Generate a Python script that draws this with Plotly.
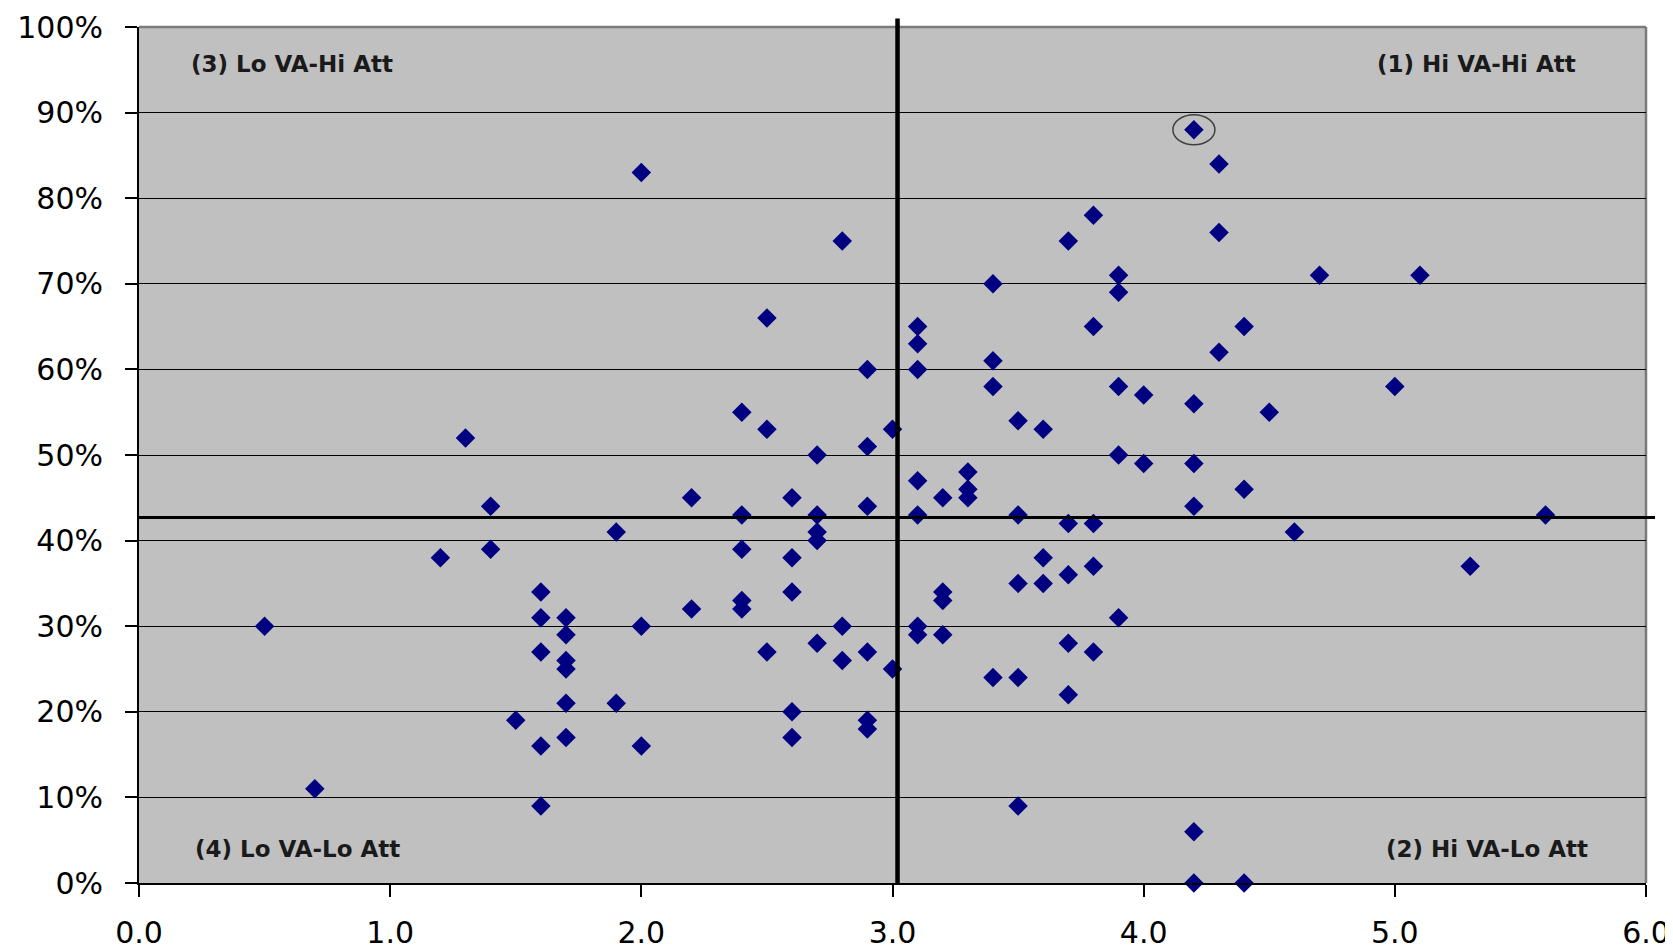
import plotly.graph_objects as go

# Value added (x) vs attendance share (y, fraction)
va = [0.5, 0.7, 1.2, 1.3, 1.4, 1.4, 1.5,
      1.6, 1.6, 1.6, 1.6, 1.6,
      1.7, 1.7, 1.7, 1.7, 1.7, 1.7,
      1.9, 1.9, 2.0, 2.0, 2.0,
      2.2, 2.2,
      2.4, 2.4, 2.4, 2.4, 2.4,
      2.5, 2.5, 2.5,
      2.6, 2.6, 2.6, 2.6, 2.6,
      2.7, 2.7, 2.7, 2.7, 2.7,
      2.8, 2.8, 2.8,
      2.9, 2.9, 2.9, 2.9, 2.9, 2.9,
      3.0, 3.0,
      3.1, 3.1, 3.1, 3.1, 3.1, 3.1, 3.1,
      3.2, 3.2, 3.2, 3.2,
      3.3, 3.3, 3.3,
      3.4, 3.4, 3.4, 3.4,
      3.5, 3.5, 3.5, 3.5, 3.5,
      3.6, 3.6, 3.6,
      3.7, 3.7, 3.7, 3.7, 3.7,
      3.8, 3.8, 3.8, 3.8, 3.8,
      3.9, 3.9, 3.9, 3.9, 3.9,
      4.0, 4.0,
      4.2, 4.2, 4.2, 4.2, 4.2, 4.2,
      4.3, 4.3, 4.3,
      4.4, 4.4, 4.4,
      4.5, 4.6, 4.7, 5.0, 5.1, 5.3, 5.6]

att = [30, 11, 38, 52, 44, 39, 19,
       34, 31, 27, 16, 9,
       31, 29, 26, 25, 21, 17,
       41, 21, 83, 30, 16,
       45, 32,
       55, 43, 39, 33, 32,
       66, 53, 27,
       45, 38, 34, 20, 17,
       50, 43, 41, 40, 28,
       75, 30, 26,
       60, 51, 44, 27, 19, 18,
       53, 25,
       65, 63, 60, 47, 43, 30, 29,
       45, 34, 33, 29,
       48, 46, 45,
       70, 61, 58, 24,
       54, 43, 35, 24, 9,
       53, 38, 35,
       75, 42, 36, 28, 22,
       78, 65, 42, 37, 27,
       71, 69, 58, 50, 31,
       57, 49,
       88, 56, 49, 44, 6, 0,
       84, 76, 62,
       65, 46, 0,
       55, 41, 71, 58, 71, 37, 43]

att_frac = [a / 100 for a in att]

threshold_x = 3.02
threshold_y = 0.427

highlight_x = 4.2
highlight_y = 0.88

quadrant_labels = ["(3) Lo VA-Hi Att", "(1) Hi VA-Hi Att",
                   "(4) Lo VA-Lo Att", "(2) Hi VA-Lo Att"]

y_ticks = [i / 10 for i in range(11)]
x_ticks = [0, 1, 2, 3, 4, 5, 6]

tick_family = "DejaVu Sans, Verdana, sans-serif"

fig = go.Figure()
fig.add_trace(go.Scatter(
    x=va, y=att_frac, mode="markers",
    marker=dict(symbol="diamond", size=15, color="#000080",
                line=dict(width=0)),
    cliponaxis=False, showlegend=False, hoverinfo="x+y"))

shapes = [
    # top and right plot border (grey)
    dict(type="line", xref="paper", yref="paper", x0=0, x1=1, y0=1, y1=1,
         line=dict(color="#7a7a7a", width=2.5), layer="below"),
    dict(type="line", xref="paper", yref="paper", x0=1, x1=1, y0=0, y1=1,
         line=dict(color="#7a7a7a", width=2.5), layer="below"),
    # quadrant threshold lines
    dict(type="line", xref="x", yref="paper", x0=threshold_x, x1=threshold_x,
         y0=0, y1=1.01, line=dict(color="black", width=4.5)),
    dict(type="line", xref="paper", yref="y", x0=0, x1=1.006,
         y0=threshold_y, y1=threshold_y, line=dict(color="black", width=3)),
    # highlighted point ellipse
    dict(type="circle", xref="x", yref="y", xsizemode="pixel", ysizemode="pixel",
         xanchor=highlight_x, yanchor=highlight_y, x0=-21, x1=21, y0=-15, y1=15,
         line=dict(color="#404040", width=1.5)),
]

ann_font = dict(family="DejaVu Sans, Verdana, sans-serif", size=23, color="#1a1a1a")
annotations = [
    dict(text="<b>%s</b>" % quadrant_labels[0], xref="paper", yref="paper",
         x=0.033, y=0.957, xanchor="left", yanchor="middle", showarrow=False, font=ann_font),
    dict(text="<b>%s</b>" % quadrant_labels[1], xref="paper", yref="paper",
         x=0.955, y=0.957, xanchor="right", yanchor="middle", showarrow=False, font=ann_font),
    dict(text="<b>%s</b>" % quadrant_labels[2], xref="paper", yref="paper",
         x=0.036, y=0.040, xanchor="left", yanchor="middle", showarrow=False, font=ann_font),
    dict(text="<b>%s</b>" % quadrant_labels[3], xref="paper", yref="paper",
         x=0.963, y=0.040, xanchor="right", yanchor="middle", showarrow=False, font=ann_font),
]

fig.update_layout(
    width=1673, height=952,
    margin=dict(l=131, r=35, t=19, b=77),
    paper_bgcolor="white", plot_bgcolor="#C0C0C0",
    shapes=shapes, annotations=annotations,
    font=dict(family=tick_family, color="black"),
)

fig.update_xaxes(
    range=[0, 6], tickvals=x_ticks,
    ticktext=["%.1f" % v for v in x_ticks],
    showgrid=False, zeroline=False, automargin=False,
    showline=True, linecolor="black", linewidth=2,
    ticks="outside", ticklen=12, tickcolor="black", tickwidth=1.5,
    ticklabelstandoff=10,
    tickfont=dict(size=30, family=tick_family, color="black"),
)
fig.update_yaxes(
    range=[0, 1.0], tickvals=y_ticks,
    ticktext=["%d%%" % round(v * 100) for v in y_ticks],
    showgrid=True, gridcolor="black", gridwidth=1.3, zeroline=False, automargin=False,
    showline=True, linecolor="black", linewidth=2,
    ticks="outside", ticklen=12, tickcolor="black", tickwidth=1.5,
    ticklabelstandoff=16,
    tickfont=dict(size=30, family=tick_family, color="black"),
)

fig.write_html("out.html")
